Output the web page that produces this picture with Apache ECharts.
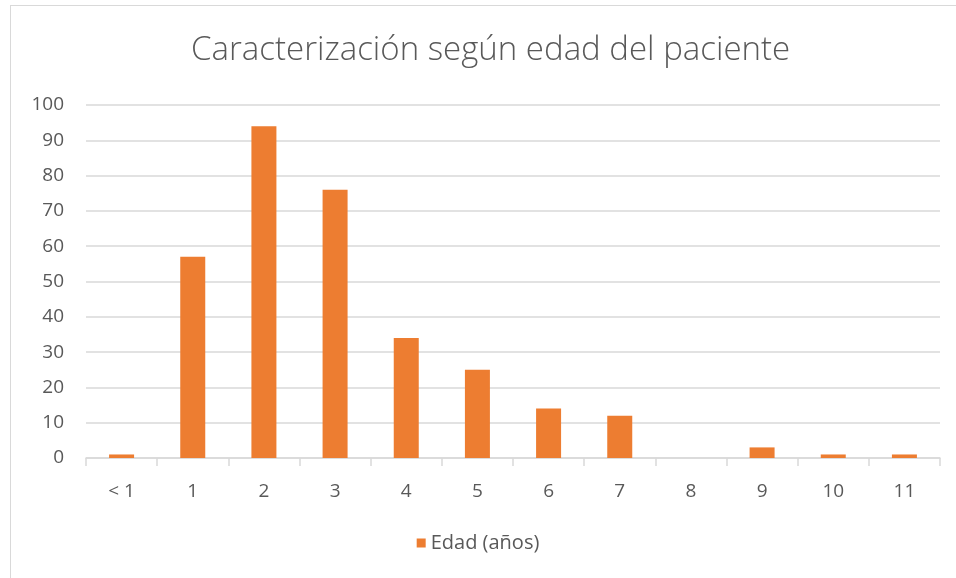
<!DOCTYPE html>
<html>
<head>
<meta charset="utf-8">
<script src="https://cdn.jsdelivr.net/npm/echarts@6/dist/echarts.min.js"></script>
<style>
html, body { margin: 0; padding: 0; background: #fff; }
#frame { position: absolute; left: 10px; top: 5px; width: 960px; height: 590px; border: 1px solid #d9d9d9; box-sizing: border-box; }
#chart { position: absolute; left: 0; top: 0; width: 956px; height: 578px; }
</style>
</head>
<body>
<div id="frame"></div>
<div id="chart"></div>
<script>
// datos
const categorias = ['< 1', '1', '2', '3', '4', '5', '6', '7', '8', '9', '10', '11']
const pacientes = [1, 57, 94, 76, 34, 25, 14, 12, 0, 3, 1, 1]
const nombreSerie = 'Edad (años)'
const titulo = 'Caracterización según edad del paciente'

const chart = echarts.init(document.getElementById('chart'))
const fuente = 'Open Sans'
chart.setOption({
    animation: false,
    title: {
        text: titulo,
        left: 186,
        top: 29,
        textStyle: { fontFamily: fuente, fontWeight: 300, fontSize: 33, color: '#595959' }
    },
    legend: {
        bottom: 20,
        left: 'center',
        icon: 'rect',
        itemWidth: 9,
        itemHeight: 9,
        itemGap: 8,
        textStyle: { fontFamily: fuente, fontSize: 20, color: '#595959' }
    },
    grid: { left: 86, right: 16, top: 105, bottom: 120 },
    xAxis: {
        type: 'category',
        data: categorias,
        axisLine: { lineStyle: { color: '#d9d9d9', width: 1.5 } },
        axisTick: { show: true, length: 8, lineStyle: { color: '#d9d9d9', width: 1.5 } },
        axisLabel: { fontFamily: fuente, fontSize: 19, color: '#595959', margin: 24 }
    },
    yAxis: {
        type: 'value',
        min: 0,
        max: 100,
        interval: 10,
        axisLine: { show: false },
        axisTick: { show: false },
        axisLabel: { fontFamily: fuente, fontSize: 19, color: '#595959', margin: 22 },
        splitLine: { lineStyle: { color: '#d9d9d9', width: 1.5 } }
    },
    series: [{
        name: nombreSerie,
        type: 'bar',
        data: pacientes,
        barWidth: 25,
        itemStyle: { color: '#ed7d31' }
    }]
})
</script>
</body>
</html>
